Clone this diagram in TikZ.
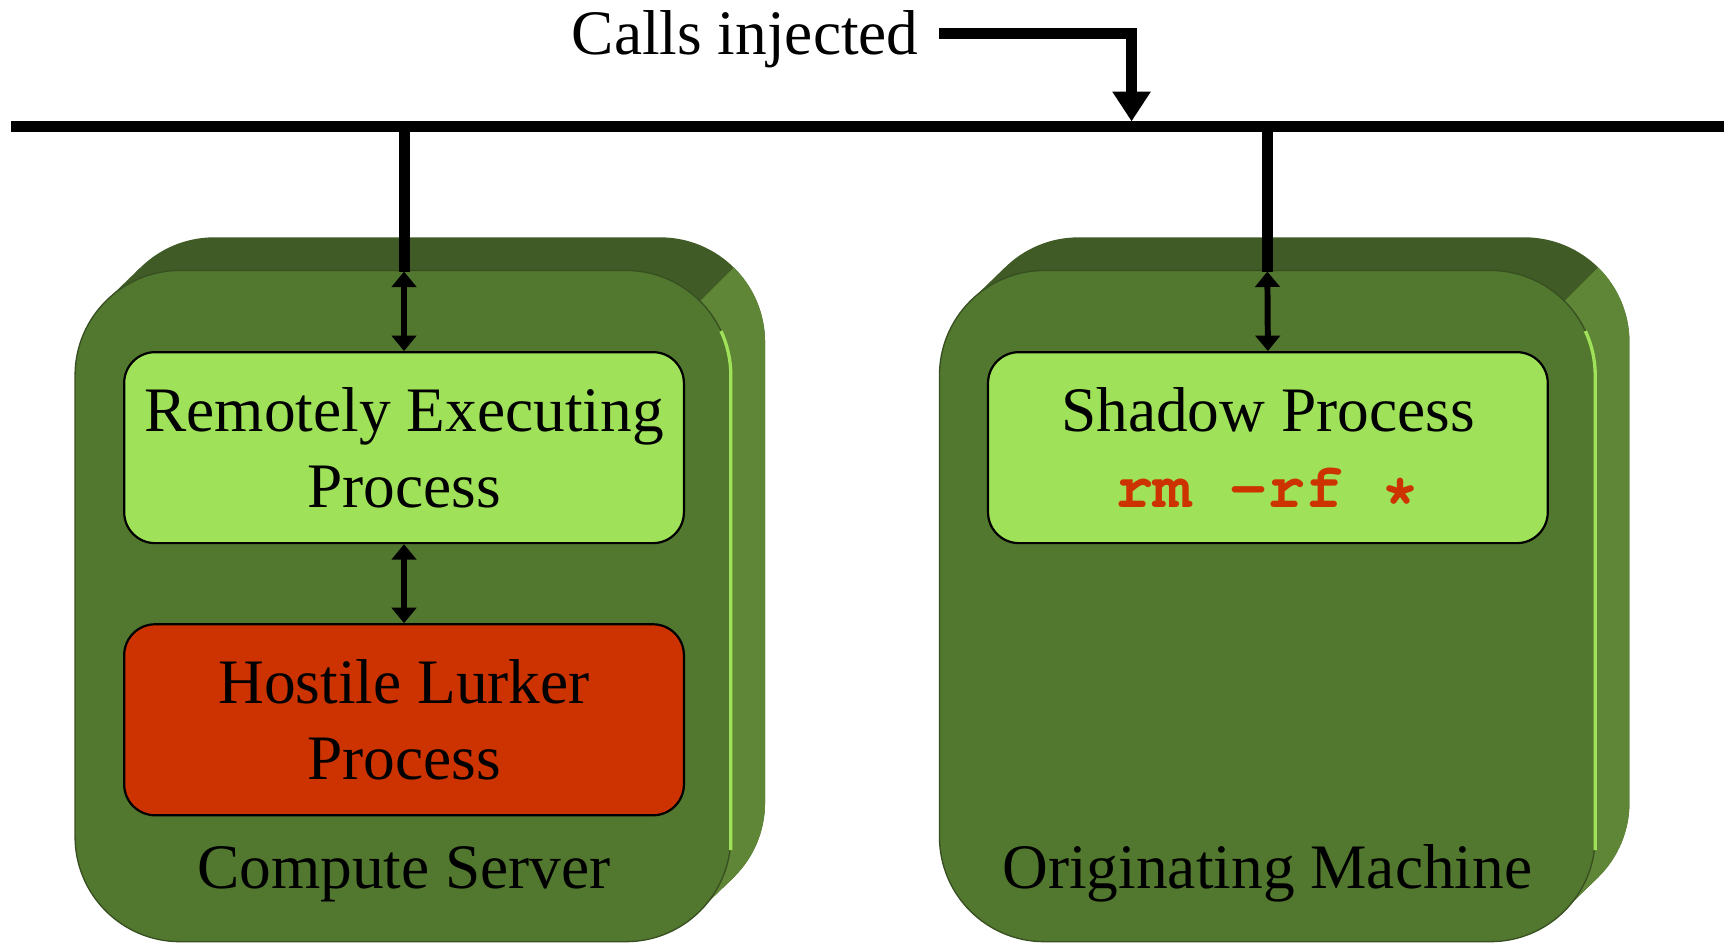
\documentclass[tikz,border=0pt]{standalone}
\usepackage{fontspec}
\setmainfont{Liberation Serif}
\setmonofont{Liberation Mono}
\usetikzlibrary{arrows.meta}
\definecolor{faceGreen}{RGB}{82,119,46}
\definecolor{topGreen}{RGB}{64,91,38}
\definecolor{sideGreen}{RGB}{95,134,54}
\definecolor{edgeGreen}{RGB}{56,80,33}
\definecolor{procGreen}{RGB}{160,225,90}
\definecolor{lurkRed}{RGB}{204,51,0}

\begin{document}
\begin{tikzpicture}
            [x=0.5pt,y=-0.5pt,
             every node/.style={font=\fontsize{28.7}{34.5}\selectfont},
             proc/.style={draw=black,line width=1pt,rounded corners=14pt,minimum width=253.5pt,minimum height=86.5pt,align=center,inner sep=0pt},
             biarrow/.style={line width=2.7pt,{Triangle[width=11pt,length=7pt]}-{Triangle[width=11pt,length=7pt]}}]
            \useasboundingbox (0,0) rectangle (1568,854);
            %
            % compute server
            \fill[topGreen,rounded corners=47.5pt] (99,215) rectangle (693,822);
            \fill[topGreen] (95.8,272.8) -- (126.8,242.8) -- (665.2,794.2) -- (634.2,824.2) -- cycle;
            \begin{scope}
                \clip (600,307) -- (800,107) -- (800,900) -- (600,900) -- cycle;
                \fill[sideGreen,rounded corners=47.5pt] (99,215) rectangle (693,822);
                \fill[sideGreen] (95.8,272.8) -- (126.8,242.8) -- (665.2,794.2) -- (634.2,824.2) -- cycle;
            \end{scope}
            \fill[faceGreen,draw=edgeGreen,line width=0.6pt,rounded corners=47.5pt] (68,245) rectangle (662,853);
            \draw[procGreen,line width=1.5pt] (653.1,299.9) arc[start angle=-25,end angle=0,radius=95] -- (662,770);
            %
            % originating machine
            \fill[topGreen,rounded corners=47.5pt] (882,215) rectangle (1476,822);
            \fill[topGreen] (878.8,272.8) -- (909.8,242.8) -- (1448.2,794.2) -- (1417.2,824.2) -- cycle;
            \begin{scope}
                \clip (1383,307) -- (1583,107) -- (1583,900) -- (1383,900) -- cycle;
                \fill[sideGreen,rounded corners=47.5pt] (882,215) rectangle (1476,822);
                \fill[sideGreen] (878.8,272.8) -- (909.8,242.8) -- (1448.2,794.2) -- (1417.2,824.2) -- cycle;
            \end{scope}
            \fill[faceGreen,draw=edgeGreen,line width=0.6pt,rounded corners=47.5pt] (851,245) rectangle (1445,853);
            \draw[procGreen,line width=1.5pt] (1436.1,299.9) arc[start angle=-25,end angle=0,radius=95] -- (1445,770);
            %
            \node (calls) at (675,36) {Calls injected};
            \node[proc,fill=procGreen] (rep) at (366,405.5) {Remotely Executing\\Process};
            \node[proc,fill=lurkRed] (lurker) at (366,652) {Hostile Lurker\\Process};
            \node[proc,fill=procGreen] (shadow) at (1148.5,405.5) {Shadow Process\\{\fontencoding{T1}\fontfamily{pcr}\fontseries{b}\selectfont\color{lurkRed}rm -rf *}};
            \node[anchor=base] (cs) at (366,805) {Compute Server};
            \node[anchor=base] (om) at (1148,805) {Originating Machine};
            %
            \coordinate (busL) at (10,115);
            \coordinate (busR) at (1562,115);
            \coordinate (csTap) at (366,115);
            \coordinate (csTop) at (366,246);
            \coordinate (omTap) at (1148,115);
            \coordinate (omTop) at (1148,246);
            \coordinate (callsOut) at (851,30);
            \coordinate (callsIn) at (1025,110);
            %
            \draw[line width=5pt] (busL) -- (busR);
            \draw[line width=5pt] (csTap) -- (csTop);
            \draw[line width=5pt] (omTap) -- (omTop);
            \draw[line width=5pt,-{Triangle[width=16.5pt,length=13.5pt]}] (callsOut) -| (callsIn);
            %
            \draw[biarrow] (csTop) -- (rep.north);
            \draw[biarrow] (omTop) -- (shadow.north);
            \draw[biarrow] (rep.south) -- (lurker.north);
        \end{tikzpicture}
\end{document}
